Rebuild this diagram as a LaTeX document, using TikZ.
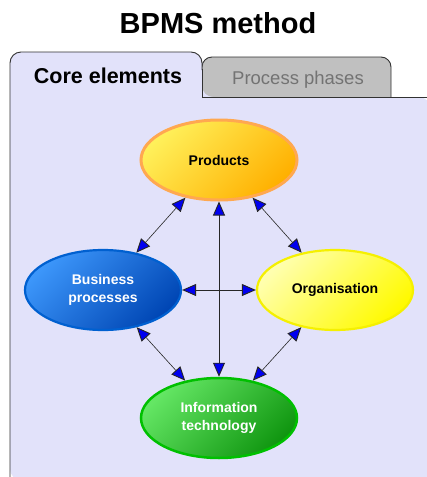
\documentclass[tikz,border=0pt]{standalone}
\usepackage{fontspec}
\setmainfont{Liberation Sans}
\usetikzlibrary{shapes.geometric,arrows.meta}
\definecolor{lav}{RGB}{226,226,250}
\definecolor{tabgray}{RGB}{192,192,192}
\definecolor{edge}{RGB}{50,50,50}
\definecolor{arrblue}{RGB}{0,0,240}
\begin{document}
\begin{tikzpicture}[x=1pt,y=-1pt,
  elem/.style={ellipse, minimum width=156pt, minimum height=80pt, inner sep=0pt,
    align=center, font=\fontsize{14}{18.5}\selectfont\bfseries},
  tip/.tip={Triangle[length=14pt,width=12pt,fill=arrblue,line width=0.9pt]},
  conn/.style={tip-tip, line width=0.6pt, draw=black!85},
  tabline/.style={draw=edge, line width=0.9pt}]
\useasboundingbox (0,0) rectangle (427,477);
\fill[white] (0,0) rectangle (427,477);
% title
\node[font=\fontsize{29}{34}\selectfont\bfseries, anchor=base] (title) at (218,33) {BPMS method};
% second tab
\path[fill=tabgray, tabline, rounded corners=10pt] (202,97) -- (202,57) -- (391,57) -- (391,97);
% panel with first tab
\fill[lav, rounded corners=11pt] (10,480) -- (10,52) -- (202,52) -- (202,97) -- (430,97) -- (430,480) -- cycle;
\draw[tabline, rounded corners=11pt] (10,480) -- (10,52) -- (202,52) -- (202,70);
\draw[tabline] (202,69) -- (202,97) -- (430,97);
\node[font=\fontsize{21.5}{25}\selectfont\bfseries, anchor=base] (t1) at (108,83) {Core elements};
\node[font=\fontsize{18.5}{22}\selectfont, text=black!55, anchor=base] (t2) at (298,84) {Process phases};
% elements
\node[elem, top color={rgb,255:red,255;green,240;blue,90}, bottom color={rgb,255:red,255;green,176;blue,0},
  shading angle=45, draw={rgb,255:red,255;green,168;blue,80}, line width=3pt] (p) at (219,160) {Products};
\node[elem, top color={rgb,255:red,60;green,150;blue,250}, bottom color={rgb,255:red,0;green,70;blue,180},
  shading angle=45, draw={rgb,255:red,0;green,96;blue,208}, line width=2.2pt, text=white] (bp) at (103,290) {Business\\processes};
\node[elem, top color={rgb,255:red,255;green,255;blue,175}, bottom color={rgb,255:red,255;green,250;blue,0},
  shading angle=45, draw={rgb,255:red,245;green,240;blue,0}, line width=2.2pt] (org) at (335,290) {Organisation};
\node[elem, top color={rgb,255:red,100;green,230;blue,100}, bottom color={rgb,255:red,16;green,150;blue,16},
  shading angle=45, draw={rgb,255:red,0;green,192;blue,0}, line width=2.5pt, text=white] (it) at (219,418) {Information\\technology};
% connectors
\draw[conn] (p) -- (it);
\draw[conn] (bp) -- (org);
\draw[conn] (p) -- (bp);
\draw[conn] (p) -- (org);
\draw[conn] (bp) -- (it);
\draw[conn] (org) -- (it);
\end{tikzpicture}
\end{document}
